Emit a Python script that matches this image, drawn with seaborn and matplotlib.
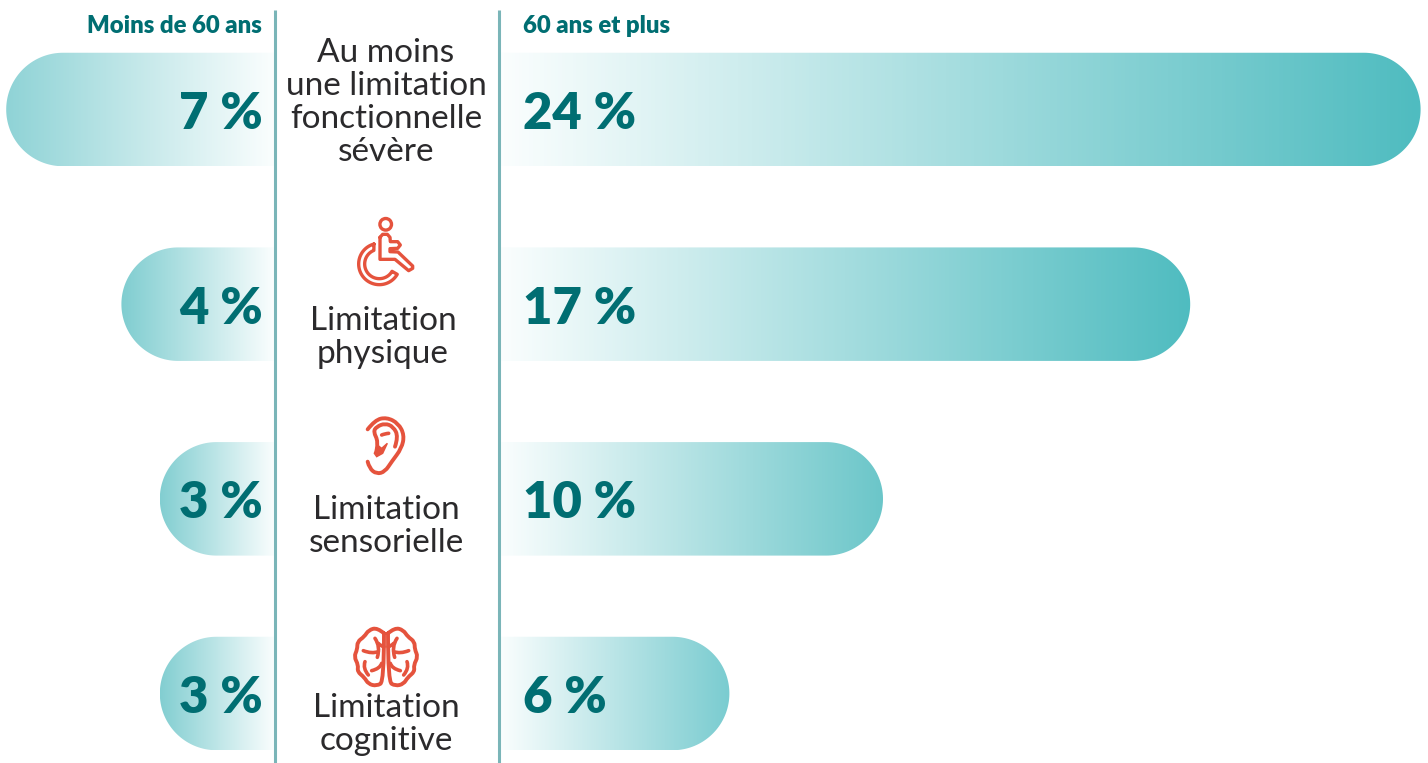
import numpy as np
import pandas as pd
import matplotlib.pyplot as plt
from matplotlib.colors import LinearSegmentedColormap
from matplotlib.patches import PathPatch, Circle, Polygon
from matplotlib.path import Path
import seaborn as sns

categories = [
    "Au moins\nune limitation\nfonctionnelle\nsévère",
    "Limitation\nphysique",
    "Limitation\nsensorielle",
    "Limitation\ncognitive",
]
under_60_lengths = [7, 4, 3, 3]
over_60_lengths = [24, 18, 10, 6]
under_60_labels = ["7 %", "4 %", "3 %", "3 %"]
over_60_labels = ["24 %", "17 %", "10 %", "6 %"]

under_60_colors = ["#8fd3d6", "#7fcdd0", "#82ced1", "#82ced1"]
over_60_colors = ["#4fbcc0", "#4fbcc0", "#6bc6c9", "#7accd0"]

TEAL = "#006e72"
RED = "#e5533d"
LINE = "#7ab5b8"
DARK = "#2b2a2c"

W, H = 1428, 763
PX = 38.4      # pixels per unit
ROW = 194.67   # pixels between rows
TOP = 109.5    # first row centre
BAR_PX = 113.5

sns.set_theme(style="white")
plt.rcParams["font.family"] = ["Lato", "DejaVu Sans"]

fig = plt.figure(figsize=(W / 100, H / 100), dpi=100)


def side_axes(x0, x1, xlim):
    ax = fig.add_axes([x0 / W, 0, (x1 - x0) / W, 1])
    ax.set_xlim(*xlim)
    ax.set_axis_off()
    return ax


def draw_bars(ax, values, colors, xlim):
    df = pd.DataFrame({"cat": categories, "val": values})
    sns.barplot(data=df, x="val", y="cat", orient="h", ax=ax, width=BAR_PX / ROW,
                color="white", legend=False)
    rx = BAR_PX / 2 / PX
    t = np.linspace(-np.pi / 2, np.pi / 2, 80)
    for bar, col in zip(ax.patches, colors):
        y0, y1 = bar.get_y(), bar.get_y() + bar.get_height()
        v = bar.get_width()
        ym, ry = (y0 + y1) / 2, (y1 - y0) / 2
        xs = np.r_[0, v - rx + rx * np.cos(t), 0]
        ys = np.r_[y0, ym + ry * np.sin(t), y1]
        clip = PathPatch(Path(np.c_[xs, ys]), transform=ax.transData, fc="none", ec="none")
        ax.add_patch(clip)
        cmap = LinearSegmentedColormap.from_list("g", ["#fbfefe", col])
        im = ax.imshow(np.linspace(0, 1, 256)[None, :], extent=[0, v, y1, y0],
                       cmap=cmap, aspect="auto", interpolation="bilinear", zorder=2)
        im.set_clip_path(clip)
        bar.set_visible(False)
    ax.set_xlim(*xlim)
    ax.set_ylim((H - TOP) / ROW, -TOP / ROW)
    ax.set_axis_off()


left = side_axes(0, 275, (275 / PX, 0))
right = side_axes(499, W, (0, (W - 499) / PX))
draw_bars(left, under_60_lengths, under_60_colors, (275 / PX, 0))
draw_bars(right, over_60_lengths, over_60_colors, (0, (W - 499) / PX))

# value labels sit on the bars
for i, lab in enumerate(under_60_labels):
    left.text(12 / PX, i + 4.5 / ROW, lab, ha="right", va="center", fontsize=36.5,
              fontweight="heavy", color=TEAL, zorder=5)
for i, lab in enumerate(over_60_labels):
    right.text(24 / PX, i + 4.5 / ROW, lab, ha="left", va="center", fontsize=36.5,
               fontweight="heavy", color=TEAL, zorder=5)

# overlay in pixel coordinates: headers, separators, centre labels, icons
ov = fig.add_axes([0, 0, 1, 1], facecolor="none")
ov.set_xlim(0, W)
ov.set_ylim(H, 0)
ov.set_axis_off()

ov.plot([275, 275], [10, H], color=LINE, lw=2.2, solid_capstyle="butt")
ov.plot([498.5, 498.5], [10, H], color=LINE, lw=2.2, solid_capstyle="butt")

ov.text(262, 33, "Moins de 60 ans", ha="right", va="baseline", fontsize=17.2,
        fontweight="heavy", color=TEAL)
ov.text(523, 33, "60 ans et plus", ha="left", va="baseline", fontsize=17.2,
        fontweight="heavy", color=TEAL)

label_pos = [(386, 102.5), (383, 337.5), (386, 526.5), (386, 724.5)]
for (x, y), lab in zip(label_pos, categories):
    ov.text(x, y, lab, ha="center", va="center", fontsize=24, color=DARK,
            linespacing=1.115)


def smooth(pts):
    pts = np.array(pts, float)
    verts = [pts[0]]
    codes = [Path.MOVETO]
    for a, b in zip(pts[1:-1], pts[2:]):
        verts += [a, (a + b) / 2]
        codes += [Path.CURVE3, Path.CURVE3]
    verts[-1] = pts[-1]
    return Path(np.array(verts), codes)


def zoomed(pts, ox, oy):
    return [(ox + x / 3, oy + y / 3) for x, y in pts]


def stroke(path, lw=2.6):
    ov.add_patch(PathPatch(path, fc="none", ec=RED, lw=lw, capstyle="round", joinstyle="round"))


# wheelchair
ov.add_patch(Circle((385.7, 224.3), 5.8, fc="none", ec=RED, lw=2.4))
body = [(330, 112), (338, 103), (352, 103), (360, 112), (361, 125), (383, 125), (391, 135), (383, 145),
        (360, 146), (360, 155), (384, 156), (428, 198), (428, 205), (416, 212), (375, 178),
        (330, 178), (330, 112)]
ov.plot(*zip(*zoomed(body, 270, 200)), color=RED, lw=2.4, solid_joinstyle="round")
cx, cy = 328, 192
outer = [(cx + 62 * np.cos(v), cy - 62 * np.sin(v)) for v in np.radians(np.linspace(105, 330, 50))]
inner = [(cx + 44 * np.cos(v), cy - 44 * np.sin(v)) for v in np.radians(np.linspace(330, 112, 50))]
wheel = outer + inner + [outer[0]]
ov.plot(*zip(*zoomed(wheel, 270, 200)), color=RED, lw=2.4, solid_joinstyle="round")

# ear
ear = [(293, 88), (315, 60), (350, 52), (385, 70), (403, 105), (395, 145), (365, 185), (345, 215),
       (320, 222), (298, 205), (293, 185)]
stroke(smooth(zoomed(ear, 270, 400)), 2.8)
fold = [(375, 140), (385, 110), (370, 80), (345, 70), (320, 80), (310, 95), (325, 125), (320, 150)]
stroke(smooth(zoomed(fold, 270, 400)), 2.8)
stroke(smooth(zoomed([(335, 105), (345, 101), (356, 100)], 270, 400)), 2.6)
ov.add_patch(Polygon(zoomed([(322, 135), (335, 145), (352, 130), (338, 160), (320, 170), (313, 160)], 270, 400),
                     fc=RED, ec=RED, lw=1))

# brain, left half mirrored around the middle
lobes = [(342, 700), (322, 683), (296, 690), (283, 710), (262, 725), (262, 748), (252, 770), (265, 795),
         (262, 815), (283, 832), (295, 852), (320, 858), (342, 845), (342, 700)]
squiggles = [
    [(315, 715), (332, 740), (322, 772)],
    [(280, 752), (305, 762), (325, 755)],
    [(285, 785), (278, 805), (295, 825)],
    [(305, 812), (330, 806), (335, 790)],
    [(342, 740), (332, 738), (325, 730)],
]
for side in (1, -1):
    mirror = lambda p: [(348 + side * (x - 348), y) for x, y in p]
    stroke(smooth(zoomed(mirror(lobes), 270, 400)), 2.8)
    for sq in squiggles:
        stroke(smooth(zoomed(mirror(sq), 270, 400)), 2.6)

fig.savefig("out.png", dpi=100)
